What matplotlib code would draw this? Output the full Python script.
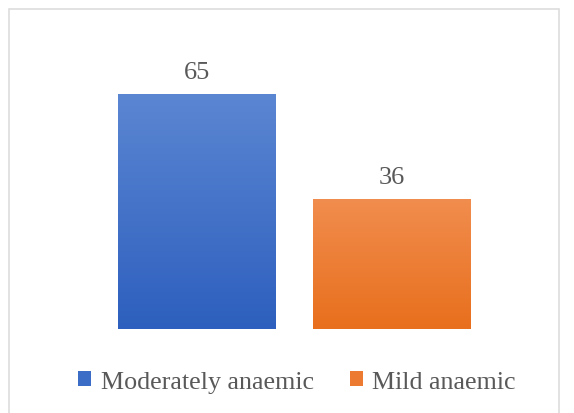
import matplotlib
matplotlib.use("Agg")
import matplotlib.pyplot as plt
import numpy as np
from matplotlib.patches import Rectangle
from matplotlib.colors import LinearSegmentedColormap

categories = ["Moderately anaemic", "Mild anaemic"]
values = [65, 36]
top_colors = ["#5B86D2", "#F18D4E"]
bottom_colors = ["#2D5FBE", "#E86F1D"]
legend_colors = ["#3B6CC6", "#EC7A30"]

W, H = 574, 414
fig = plt.figure(figsize=(W / 100, H / 100), dpi=100)
fig.patch.set_facecolor("white")

# chart border
fig.patches.append(Rectangle((9 / W, -0.01), (559 - 9) / W, (H - 10) / H + 0.01,
                             transform=fig.transFigure, fill=False,
                             edgecolor="#DDDDDD", linewidth=1.2))

# axes: centers at px 197 and 392; baseline at y=330 from top
left_px, right_px = 99.5, 489.5
base_px = 330
ymax = 70
px_per_unit = 235 / 65
top_px = base_px - ymax * px_per_unit
ax = fig.add_axes([left_px / W, (H - base_px) / H, (right_px - left_px) / W,
                   (base_px - top_px) / H])
ax.set_xlim(-0.5, 1.5)
ax.set_ylim(0, ymax)
ax.axis("off")

x = np.arange(len(categories))
width = 0.81
bars = ax.bar(x, values, width=width, color="none", edgecolor="none")
grad = np.linspace(1, 0, 256).reshape(-1, 1)
for b, tc, bc, v in zip(bars, top_colors, bottom_colors, values):
    cmap = LinearSegmentedColormap.from_list("g", [bc, tc])
    x0, y0 = b.get_x(), b.get_y()
    im = ax.imshow(grad, cmap=cmap, aspect="auto",
                   extent=[x0, x0 + b.get_width(), y0, y0 + b.get_height()],
                   zorder=2)
    im.set_clip_path(b)
    ax.annotate(str(v), (b.get_x() + b.get_width() / 2, v), xytext=(0, 8),
                textcoords="offset points", ha="center", va="bottom",
                fontsize=19, family="Liberation Serif", color="#595959")
ax.set_xlim(-0.5, 1.5)
ax.set_ylim(0, ymax)

handles = [Rectangle((0, 0), 1, 1, facecolor=c, edgecolor="none") for c in legend_colors]
fig.legend(handles, categories, loc="center", bbox_to_anchor=(297 / W, (H - 383) / H),
           ncol=2, frameon=False, handlelength=0.5, handleheight=0.5,
           handletextpad=0.35, columnspacing=1.4,
           prop={"family": "Liberation Serif", "size": 18.7}, labelcolor="#595959")

fig.savefig("out.png", dpi=100)
